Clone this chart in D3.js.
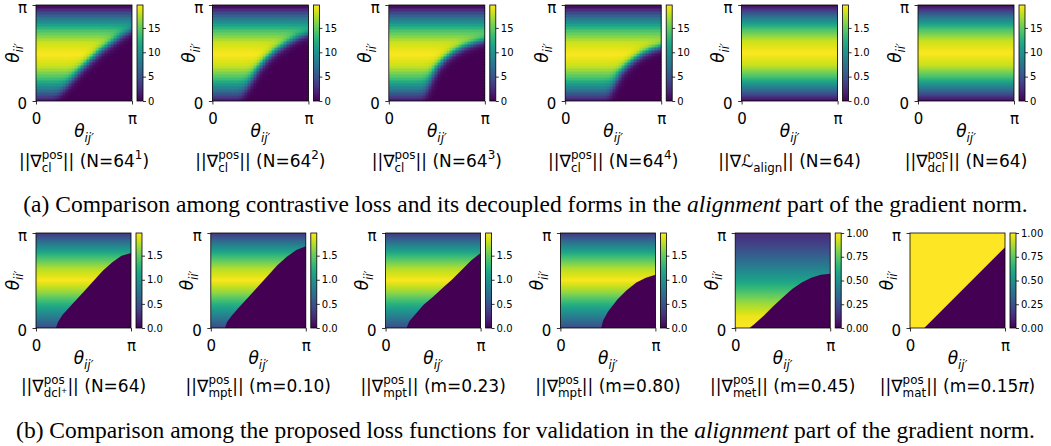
<!DOCTYPE html>
<html><head><meta charset="utf-8">
<script src="https://cdn.jsdelivr.net/npm/d3@7"></script>
<style>
body{margin:0;background:#fff;}
svg{display:block;}
</style></head><body>
<svg id="c" width="1051" height="446"></svg>
<script>
// ---------------- data ----------------
// θ_ii' levels (units of π) at which the vertical colour profile was read
const yLevels = [0, 0.125, 0.25, 0.375, 0.5, 0.625, 0.75, 0.875, 1];
// gradient-norm value along θ_ii' in the non-zero region
const profileCl    = [0.4, 7.5, 13.9, 18.1, 19.6, 18.1, 13.9, 7.5, 0.3];
const profileAlign = [0.04, 0.75, 1.39, 1.81, 1.96, 1.81, 1.39, 0.75, 0.03];
const profileDcl   = [0.4, 7.5, 13.9, 18.1, 19.6, 18.1, 13.9, 7.5, 0.3];
const profilePlus  = [0.45, 0.85, 1.25, 1.65, 1.95, 1.75, 1.35, 0.85, 0.3];
const profileMet   = [1.0, 0.97, 0.86, 0.72, 0.57, 0.44, 0.31, 0.2, 0.12];
const profileMat   = [1, 1, 1, 1, 1, 1, 1, 1, 1];

// boundary of the zero region, points [θ_ij', θ_ii'] in units of π
const edgeN1  = [[0.2,0],[0.27,0.1],[0.36,0.22],[0.46,0.34],[0.56,0.44],[0.67,0.54],[0.78,0.62],[0.89,0.7],[1.0,0.76]];
const edgeN2  = [[0.3,0],[0.34,0.1],[0.4,0.22],[0.47,0.34],[0.56,0.45],[0.66,0.54],[0.78,0.62],[0.89,0.68],[1.0,0.72]];
const edgeN3  = [[0.37,0],[0.4,0.12],[0.44,0.24],[0.5,0.36],[0.58,0.45],[0.67,0.52],[0.78,0.58],[0.89,0.62],[1.0,0.65]];
const edgeN4  = [[0.46,0],[0.48,0.1],[0.52,0.2],[0.57,0.3],[0.64,0.38],[0.72,0.45],[0.81,0.51],[0.9,0.55],[1.0,0.58]];
const edgePlus = [[0.21,0],[0.23,0.06],[0.28,0.14],[0.4,0.27],[0.5,0.38],[0.6,0.49],[0.7,0.6],[0.8,0.69],[0.9,0.76],[1.0,0.79]];
const edgeM010 = [[0.15,0],[0.17,0.06],[0.22,0.13],[0.3,0.22],[0.4,0.33],[0.5,0.44],[0.6,0.55],[0.7,0.66],[0.8,0.75],[0.9,0.82],[1.0,0.86]];
const edgeM023 = [[0.22,0],[0.25,0.07],[0.3,0.13],[0.4,0.245],[0.5,0.33],[0.6,0.42],[0.7,0.51],[0.8,0.61],[0.9,0.71],[1.0,0.79]];
const edgeM080 = [[0.43,0],[0.45,0.08],[0.5,0.17],[0.6,0.3],[0.7,0.4],[0.8,0.48],[0.9,0.53],[1.0,0.56]];
const edgeMet  = [[0.15,0],[0.2,0.04],[0.3,0.13],[0.4,0.23],[0.5,0.32],[0.6,0.41],[0.7,0.48],[0.8,0.53],[0.9,0.56],[1.0,0.57]];
const edgeMat  = [[0.15,0],[1.0,0.85]];

// colour-bar maxima and ticks
const vmaxTop = [19.7, 19.7, 19.7, 19.7, 1.97, 19.7];
const vmaxBottom = [1.97, 1.97, 1.97, 1.97, 1.0, 1.0];
const ticksCl = [0, 5, 10, 15];
const ticksTwo = [0, 0.5, 1.0, 1.5];
const ticksOne = [0, 0.25, 0.5, 0.75, 1.0];
const axisTickValues = [0, 1];
const axisTickLabels = ["0", "π"];

// titles
const titlesTop = [
  [{t:"||∇"},{sup:"pos",sub:"cl"},{t:"|| (N=64"},{sup:"1"},{t:")"}],
  [{t:"||∇"},{sup:"pos",sub:"cl"},{t:"|| (N=64"},{sup:"2"},{t:")"}],
  [{t:"||∇"},{sup:"pos",sub:"cl"},{t:"|| (N=64"},{sup:"3"},{t:")"}],
  [{t:"||∇"},{sup:"pos",sub:"cl"},{t:"|| (N=64"},{sup:"4"},{t:")"}],
  [{t:"||∇"},{t:"ℒ",it:true},{sub:"align"},{t:"|| (N=64)"}],
  [{t:"||∇"},{sup:"pos",sub:"dcl"},{t:"|| (N=64)"}]
];
const titlesBottom = [
  [{t:"||∇"},{sup:"pos",sub:"dcl⁺"},{t:"|| (N=64)"}],
  [{t:"||∇"},{sup:"pos",sub:"mpt"},{t:"|| (m=0.10)"}],
  [{t:"||∇"},{sup:"pos",sub:"mpt"},{t:"|| (m=0.23)"}],
  [{t:"||∇"},{sup:"pos",sub:"mpt"},{t:"|| (m=0.80)"}],
  [{t:"||∇"},{sup:"pos",sub:"met"},{t:"|| (m=0.45)"}],
  [{t:"||∇"},{sup:"pos",sub:"mat"},{t:"|| (m=0.15"},{t:"π",it:true},{t:")"}]
];
const captionA = ["(a) Comparison among contrastive loss and its decoupled forms in the ", "alignment", " part of the gradient norm."];
const captionB = ["(b) Comparison among the proposed loss functions for validation in the ", "alignment", " part of the gradient norm."];

// ---------------- drawing ----------------
const FONT = "'DejaVu Sans', sans-serif";
const SERIF = "'Liberation Serif', 'Times New Roman', serif";
const svg = d3.select('#c');
const defs = svg.append('defs');
let uid = 0;

function extendEdge(pts){
  const n = pts.length;
  const a = pts[0], b = pts[1];
  const d0 = [a[0]-b[0], a[1]-b[1]], k0 = 0.6/Math.hypot(d0[0], d0[1]);
  const c = pts[n-1], d = pts[n-2];
  const d1 = [c[0]-d[0], c[1]-d[1]], k1 = 0.6/Math.hypot(d1[0], d1[1]);
  return [[a[0]+d0[0]*k0, a[1]+d0[1]*k0], ...pts, [c[0]+d1[0]*k1, c[1]+d1[1]*k1]];
}
function segDist(p, a, b){
  const dx = b[0]-a[0], dy = b[1]-a[1];
  let t = ((p[0]-a[0])*dx + (p[1]-a[1])*dy)/(dx*dx+dy*dy);
  t = Math.max(0, Math.min(1, t));
  return Math.hypot(p[0]-a[0]-t*dx, p[1]-a[1]-t*dy);
}

function mathLabel(parent, segs, size, italicAll){
  const g = parent.append('g').style('font-family', FONT).attr('fill', '#000');
  const small = size*0.7;
  let x = 0;
  for (const s of segs){
    if (s.t !== undefined){
      const el = g.append('text').attr('x', x).attr('y', 0)
        .style('font-size', size+'px').style('font-style', (s.it||italicAll)?'italic':'normal').text(s.t);
      x += el.node().getComputedTextLength();
    } else {
      let w = 0;
      if (s.sup !== undefined){
        const el = g.append('text').attr('x', x).attr('y', -size*0.45)
          .style('font-size', small+'px').style('font-style', italicAll?'italic':'normal').text(s.sup);
        w = Math.max(w, el.node().getComputedTextLength());
      }
      if (s.sub !== undefined){
        const el = g.append('text').attr('x', x).attr('y', size*0.28)
          .style('font-size', small+'px').style('font-style', italicAll?'italic':'normal').text(s.sub);
        w = Math.max(w, el.node().getComputedTextLength());
      }
      x += w;
    }
  }
  return {g, w: x};
}

function drawPanel(L, T, S, profile, edge, soft, vmax, cticks, cfmt, title, titleY){
  const W = S, H = S;
  const xs = d3.scaleLinear().domain([0,1]).range([L, L+W]);
  const ys = d3.scaleLinear().domain([0,1]).range([T+H, T]);
  const color = d3.scaleSequential(d3.interpolateViridis).domain([0, vmax]);
  const prof = d3.scaleLinear().domain(yLevels).range(profile).clamp(true);
  const g = svg.append('g');
  const id = 'p' + (uid++);

  if (soft){
    defs.append('clipPath').attr('id', 'clip'+id).append('rect')
      .attr('x', L).attr('y', T).attr('width', W).attr('height', H);
    const ext = extendEdge(edge);
    const e0 = ext[0], e1 = ext[ext.length-1];
    const poly = [...ext, [e1[0]+2, e1[1]], [e1[0]+2, -3], [e0[0], -3]];
    const N = 64, wSoft = 0.022;
    const cells = [];
    for (let i = 0; i < N; i++) for (let j = 0; j < N; j++){
      const p = [(i+0.5)/N, (j+0.5)/N];
      let d = Infinity;
      for (let k = 0; k < ext.length-1; k++) d = Math.min(d, segDist(p, ext[k], ext[k+1]));
      const t = d3.polygonContains(poly, p) ? -d : d;
      const f = 1/(1+Math.exp(-t/wSoft));
      cells.push({i, j, v: prof(p[1])*f});
    }
    g.append('g').attr('clip-path', `url(#clip${id})`)
      .attr('shape-rendering', 'crispEdges')
      .selectAll('rect').data(cells).join('rect')
      .attr('x', d => xs(d.i/N)).attr('y', d => ys((d.j+1)/N))
      .attr('width', W/N+1).attr('height', H/N+1)
      .attr('fill', d => color(d.v));
  } else {
    const grad = defs.append('linearGradient').attr('id', 'g'+id)
      .attr('x1', 0).attr('y1', 1).attr('x2', 0).attr('y2', 0);
    grad.selectAll('stop').data(d3.range(0, 1.0001, 1/48)).join('stop')
      .attr('offset', d => d).attr('stop-color', d => color(prof(d)));
    g.append('rect').attr('x', L).attr('y', T).attr('width', W).attr('height', H)
      .attr('fill', `url(#g${id})`);
    if (edge){
      const area = [...edge, [1, 0]];
      g.append('path')
        .attr('d', d3.line().x(d => xs(d[0])).y(d => ys(d[1]))(area) + 'Z')
        .attr('fill', color(0));
    }
  }
  // frame
  g.append('rect').attr('x', L).attr('y', T).attr('width', W).attr('height', H)
    .attr('fill', 'none').attr('stroke', '#000').attr('stroke-width', 0.8);

  // axes
  const ax = g.append('g').attr('transform', `translate(0,${T+H})`)
    .call(d3.axisBottom(xs).tickValues(axisTickValues).tickFormat((d,i) => axisTickLabels[i]).tickSize(3.5).tickPadding(8.5));
  const ay = g.append('g').attr('transform', `translate(${L},0)`)
    .call(d3.axisLeft(ys).tickValues(axisTickValues).tickFormat((d,i) => axisTickLabels[i]).tickSize(3.5).tickPadding(5.5));
  [ax, ay].forEach(a => {
    a.select('.domain').remove();
    a.selectAll('line').attr('stroke-width', 0.8);
    a.selectAll('text').style('font-family', FONT).style('font-size', '15px').attr('fill', '#000');
  });
  ay.selectAll('text').attr('dy', '0.48em');

  // colorbar
  const cL = L + W + 5, cW = 6;
  const cs = d3.scaleLinear().domain([0, vmax]).range([T+H, T]);
  const cg = defs.append('linearGradient').attr('id', 'cb'+id)
    .attr('x1', 0).attr('y1', 1).attr('x2', 0).attr('y2', 0);
  cg.selectAll('stop').data(d3.range(0, 1.0001, 0.05)).join('stop')
    .attr('offset', d => d).attr('stop-color', d => d3.interpolateViridis(d));
  g.append('rect').attr('x', cL).attr('y', T).attr('width', cW).attr('height', H)
    .attr('fill', `url(#cb${id})`).attr('stroke', '#000').attr('stroke-width', 0.8);
  const ca = g.append('g').attr('transform', `translate(${cL+cW},0)`)
    .call(d3.axisRight(cs).tickValues(cticks).tickFormat(cfmt).tickSize(3).tickPadding(2));
  ca.select('.domain').remove();
  ca.selectAll('line').attr('stroke-width', 0.8);
  ca.selectAll('text').style('font-family', FONT).style('font-size', '10px').attr('fill', '#000');

  // axis labels
  const xl = mathLabel(g, [{t:"θ"},{sub:"ij′"}], 17, true);
  xl.g.attr('transform', `translate(${L + W/2 - xl.w/2},${T+H+36})`);
  const yl = mathLabel(g, [{t:"θ"},{sub:"ii′"}], 17, true);
  yl.g.attr('transform', `translate(${L-17.5},${T+H/2}) rotate(-90) translate(${-yl.w/2},0)`);

  // title
  const tl = mathLabel(g, title, 17, false);
  tl.g.attr('transform', `translate(${L + W/2 - tl.w/2},${titleY})`);
}

const topProfiles = [profileCl, profileCl, profileCl, profileCl, profileAlign, profileDcl];
const topEdges = [edgeN1, edgeN2, edgeN3, edgeN4, null, null];
const topTicks = [ticksCl, ticksCl, ticksCl, ticksCl, ticksTwo, ticksCl];
const bottomProfiles = [profilePlus, profilePlus, profilePlus, profilePlus, profileMet, profileMat];
const bottomEdges = [edgePlus, edgeM010, edgeM023, edgeM080, edgeMet, edgeMat];
const bottomTicks = [ticksTwo, ticksTwo, ticksTwo, ticksTwo, ticksOne, ticksOne];

const fmtFor = t => t === ticksCl ? d3.format('d') : (t === ticksTwo ? d3.format('.1f') : d3.format('.2f'));

for (let k = 0; k < 6; k++){
  drawPanel(36 + k*176.4, 5, 96, topProfiles[k], topEdges[k], !!topEdges[k] && k < 4,
    vmaxTop[k], topTicks[k], fmtFor(topTicks[k]), titlesTop[k], 167);
}
for (let k = 0; k < 6; k++){
  drawPanel(36 + k*174.8, 233, 95, bottomProfiles[k], bottomEdges[k], false,
    vmaxBottom[k], bottomTicks[k], fmtFor(bottomTicks[k]), titlesBottom[k], 392);
}

function caption(parts, y){
  const t = svg.append('text').attr('x', 525.5).attr('y', y).attr('text-anchor', 'middle')
    .style('font-family', SERIF).style('font-size', '23.5px').attr('fill', '#000');
  parts.forEach((p, i) => t.append('tspan').style('font-style', i === 1 ? 'italic' : 'normal').text(p));
}
caption(captionA, 212);
caption(captionB, 438);
</script>
</body></html>
